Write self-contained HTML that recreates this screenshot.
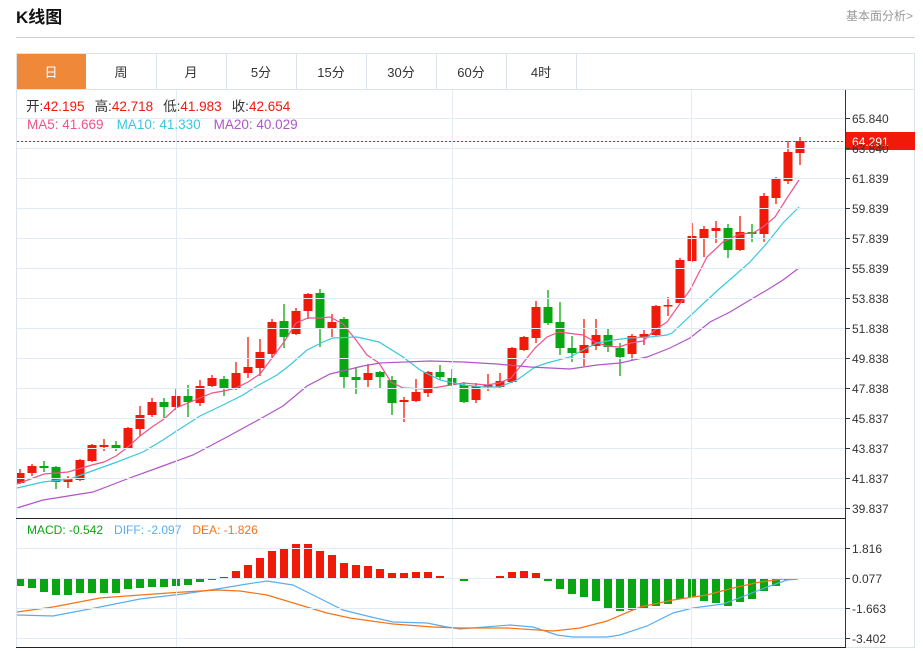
<!DOCTYPE html>
<html><head><meta charset="utf-8"><style>
body{margin:0;background:#fff;width:923px;height:651px;overflow:hidden;font-family:"Liberation Sans","Noto Sans CJK SC",sans-serif;}
svg{position:absolute;left:0;top:0}
</style></head><body>
<svg id="s" width="923" height="651" xmlns="http://www.w3.org/2000/svg" font-family="Liberation Sans, Noto Sans CJK SC, sans-serif">
<text x="16" y="23" font-size="17" font-weight="bold" fill="#111">K线图</text>
<text x="913" y="20" font-size="12" fill="#999" text-anchor="end">基本面分析&gt;</text>
<line x1="16" y1="37.5" x2="915" y2="37.5" stroke="#ccc"/>
<rect x="16.5" y="53.5" width="898" height="594" fill="none" stroke="#dde3ea"/>
<line x1="16" y1="89.5" x2="915" y2="89.5" stroke="#dde3ea"/>
<rect x="17" y="54" width="69" height="35" fill="#f0883a"/>
<g id="grid"></g>
<g id="main"></g>
</svg>
<script>
var s=document.getElementById('s'),NS='http://www.w3.org/2000/svg';
function el(t,a,txt,p){var e=document.createElementNS(NS,t);for(var k in a)e.setAttribute(k,a[k]);if(txt!=null)e.textContent=txt;(p||s).appendChild(e);return e;}
var tabs=['日','周','月','5分','15分','30分','60分','4时'];
tabs.forEach(function(t,i){var x=16+70*i;if(i>0)el('line',{x1:x+70.5,y1:54,x2:x+70.5,y2:89,stroke:'#dde3ea'});el('text',{x:x+35,y:77,'font-size':13,'text-anchor':'middle',fill:i==0?'#fff':'#333'},t);});
var labs=['65.840','63.840','61.839','59.839','57.839','55.839','53.838','51.838','49.838','47.838','45.837','43.837','41.837','39.837'];
labs.forEach(function(l,i){var y=118+30*i+0.5;el('line',{x1:17,y1:y,x2:845,y2:y,stroke:'#e4ecf3'});el('line',{x1:845,y1:y,x2:850,y2:y,stroke:'#333'});el('text',{x:852,y:y+4.5,'font-size':12,fill:'#333'},l);});
[548,578,608,638].forEach(function(y,i){y+=0.5;el('line',{x1:17,y1:y,x2:845,y2:y,stroke:'#e4ecf3'});el('line',{x1:845,y1:y,x2:850,y2:y,stroke:'#333'});el('text',{x:852,y:y+4.5,'font-size':12,fill:'#333'},['1.816','0.077','-1.663','-3.402'][i]);});
[176.5,452.5,691.5].forEach(function(x){el('line',{x1:x,y1:90,x2:x,y2:647,stroke:'#e4ecf3'});});
el('line',{x1:845.5,y1:90,x2:845.5,y2:648,stroke:'#333'});
el('line',{x1:16,y1:518.5,x2:846,y2:518.5,stroke:'#222'});
el('line',{x1:16,y1:647.5,x2:846,y2:647.5,stroke:'#222'});
var C=[[473,483,469,484,1],[466,473,464,476,1],[466,468,461,472,0],[467,482,466,489,0],[479,482,476,488,1],[460,480,459,481,1],[445,461,444,462,1],[445,447,439,451,1],[445,448,441,451,0],[428,448,427,449,1],[415,429,406,436,1],[402,415,398,417,1],[402,407,398,419,0],[396,407,388,410,1],[396,402,385,417,0],[386,403,380,406,1],[378,386,375,387,1],[379,389,376,396,0],[373,389,362,390,1],[367,373,337,378,1],[352,368,339,376,1],[322,354,319,358,1],[321,337,304,348,0],[311,334,308,335,1],[294,311,293,319,1],[293,328,289,347,0],[322,329,314,337,1],[319,377,317,388,0],[377,380,367,394,0],[373,380,364,387,1],[372,377,371,388,0],[380,403,376,415,0],[400,402,397,422,1],[392,401,379,402,1],[372,393,371,397,1],[372,377,365,380,0],[378,385,369,386,0],[385,402,382,403,0],[386,400,383,403,1],[385,387,374,391,1],[381,387,373,388,1],[348,382,347,383,1],[337,350,336,351,1],[307,338,301,343,1],[307,323,290,325,0],[322,348,302,355,0],[348,353,336,362,0],[345,353,319,366,1],[335,346,319,350,1],[335,347,328,352,0],[348,357,343,376,0],[336,354,334,360,1],[334,337,330,345,1],[306,335,305,336,1],[305,306,297,316,1],[260,303,258,304,1],[236,261,223,262,1],[229,238,226,257,1],[228,231,221,243,1],[228,250,224,258,0],[232,250,216,251,1],[232,234,224,242,0],[196,234,193,242,1],[179,198,177,204,1],[152,181,141,184,1],[141,153,137,165,1]];
var g=document.getElementById('main');
C.forEach(function(c,i){var x=20+12*i,col=c[4]?'#f01a0a':'#08a612';
el('line',{x1:x,y1:c[2],x2:x,y2:c[3],stroke:col,'stroke-width':1.3},null,g);
el('rect',{x:Math.max(17,x-4.5),y:c[0],width:x-4.5<17?x+4.5-17:9,height:Math.max(1.5,c[1]-c[0]),fill:col},null,g);});
function pl(pts,col){el('polyline',{points:pts,fill:'none',stroke:col,'stroke-width':1.2},null,g);}
pl('17,484 44,474 68,472 92,465 104,462 116,456 128,447 140,436 152,427 164,419 176,408 188,403 200,398 212,393 224,391 236,388 248,382 260,374 272,358 284,342 296,323 308,318 320,318 330,317 343,324 356,340 367,355 379,363 391,382 403,388 427,389 463,383 487,385 499,383 511,378 523,363 535,348 547,337 559,332 583,335 595,342 607,346 619,347 631,343 643,341 655,330 667,322 679,305 690,290 707,257 723,242 740,234 753,233 763,227 775,217 787,198 799,180','#f0528a');
pl('17,488 43,482 70,479 92,471 117,462 143,452 163,440 175,432 200,416 223,405 243,395 257,386 277,375 290,365 307,350 323,342 333,338 357,337 379,342 403,357 420,370 440,380 463,385 483,387 499,387 517,380 535,367 547,363 570,357 583,350 597,343 613,340 630,338 650,337 667,335 672,333 690,316 705,302 718,290 733,277 750,262 767,243 783,223 799,207','#38c8e0');
pl('17,508 43,500 93,492 127,479 160,467 193,455 227,437 260,419 283,406 307,386 330,374 363,366 380,363 430,361 463,362 497,364 530,367 570,369 597,365 620,363 647,357 670,348 690,338 710,322 730,312 750,300 767,290 783,280 799,268','#b055c8');
el('line',{x1:17,y1:141.5,x2:845,y2:141.5,stroke:'#f01a0a','stroke-dasharray':'2,2'},null,g);
el('rect',{x:846,y:132,width:69,height:18,fill:'#f01a0a'},null,g);
el('text',{x:852,y:146,'font-size':12,fill:'#fff'},'64.291',g);
var M=[586,588,592,595,595,593,593,593,593,589,588,587,587,586,585,582,580,577,571,565,558,551,549,544,544,551,555,563,565,566,569,573,573,572,572,576,579,581,579,579,576,572,571,573,581,589,594,597,601,608,611,610,609,606,604,599,597,601,603,606,602,599,591,586,580,578.5];
M.forEach(function(v,i){var x=20+12*i,z=578;var up=v<z;var x0=Math.max(17,x-4),w=x-4<17?x+4-17:8;
el('rect',{x:x0,y:Math.min(v,z),width:w,height:Math.max(1,Math.abs(v-z)),fill:up?'#f01a0a':'#08a612'},null,g);});
el('line',{x1:790,y1:578.5,x2:845,y2:578.5,stroke:'#9cc8e0','stroke-dasharray':'3,2'},null,g);
pl('17,615 53,616 100,607 140,599 183,594 217,589 247,584 267,581 293,585 317,597 343,610 367,616 393,622 427,623 447,627 460,629 510,625 533,627 557,635 573,637 607,637 620,635 647,626 673,613 693,608 723,604 747,595 767,587 787,580 798,579','#5aaef0');
pl('17,612 53,607 100,598 140,595 183,592 217,590 240,591 267,595 300,605 327,613 350,618 393,624 433,627 460,628 507,628 553,631 580,628 607,621 640,607 673,600 707,595 733,588 760,582 783,579 798,579','#f5731a');
var L=[[0,'开:','#333'],[0,'42.195','#f01a0a'],[10,'高:','#333'],[0,'42.718','#f01a0a'],[10,'低:','#333'],[0,'41.983','#f01a0a'],[10,'收:','#333'],[0,'42.654','#f01a0a']];
var t=el('text',{x:26,y:111,'font-size':13.5});L.forEach(function(l){el('tspan',{fill:l[2],dx:l[0]},l[1],t);});
t=el('text',{x:27,y:129,'font-size':13.5});[['MA5: 41.669','#f0528a',0],['MA10: 41.330','#38c8e0',13],['MA20: 40.029','#b055c8',13]].forEach(function(l){el('tspan',{fill:l[1],dx:l[2]},l[0],t);});
t=el('text',{x:27,y:534,'font-size':12});[['MACD: -0.542','#08a612',0],['DIFF: -2.097','#5aaef0',11],['DEA: -1.826','#f5731a',11]].forEach(function(l){el('tspan',{fill:l[1],dx:l[2]},l[0],t);});
</script>
</body></html>
